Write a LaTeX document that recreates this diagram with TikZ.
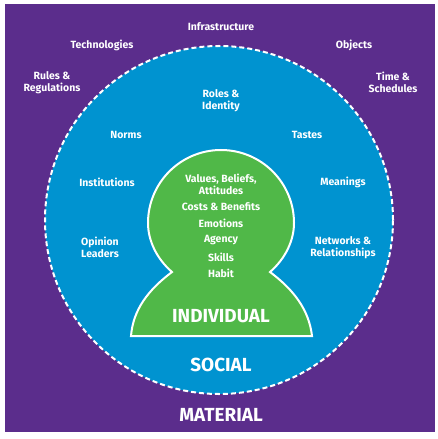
\documentclass[tikz,border=0pt]{standalone}
\usepackage{fontspec}
\setmainfont{Fira Sans}
\definecolor{purp}{HTML}{5B2D8C}
\definecolor{blu}{HTML}{0093D0}
\definecolor{grn}{HTML}{50B848}
\tikzset{
  lab/.style={text=white,font=\fontsize{10.5}{12}\selectfont\bfseries,align=center,inner sep=0pt},
  biglab/.style={text=white,font=\fontsize{19}{21}\selectfont\bfseries,inner sep=0pt},
}
\begin{document}
\begin{tikzpicture}[x=1bp,y=-1bp]
\useasboundingbox (0,0) rectangle (438,439);
\fill[white] (0,0) rectangle (438,439);
\fill[purp] (5,4) rectangle (435,432);
\node[circle,draw=white,fill=blu,line width=2bp,dash pattern=on 5bp off 3bp,minimum size=348bp,inner sep=0pt] (soc) at (219,220) {};
\draw[fill=grn,draw=white,line width=2bp,line join=miter]
  (131,336) .. controls (133,310) and (148,290) .. (172,272)
  .. controls (157,259) and (148,241) .. (148,223)
  arc[start angle=180,end angle=360,x radius=73,y radius=73]
  .. controls (294,241) and (285,259) .. (270,272)
  .. controls (294,290) and (309,310) .. (312,336) -- cycle;
\node[lab] (a1) at (221,26.5) {Infrastructure};
\node[lab] (a2) at (102,45.5) {Technologies};
\node[lab] (a3) at (52,82.5) {Rules \&\\Regulations};
\node[lab] (a4) at (354,45.5) {Objects};
\node[lab] (a5) at (393,82.5) {Time \&\\Schedules};
\node[lab] (b1) at (221,100.5) {Roles \&\\Identity};
\node[lab] (b2) at (126,134.5) {Norms};
\node[lab] (b3) at (307,134.5) {Tastes};
\node[lab] (b4) at (107,182.5) {Institutions};
\node[lab] (b5) at (343,182.5) {Meanings};
\node[lab] (b6) at (100,247.5) {Opinion\\Leaders};
\node[lab] (b7) at (343,247.5) {Networks \&\\Relationships};
\node[lab] (c1) at (221,184) {Values, Beliefs,\\Attitudes};
\node[lab] (c2) at (221,206.5) {Costs \& Benefits};
\node[lab] (c3) at (221,223.5) {Emotions};
\node[lab] (c4) at (221,240.5) {Agency};
\node[lab] (c5) at (221,257) {Skills};
\node[lab] (c6) at (221,273.5) {Habit};
\node[biglab] (d1) at (221,316) {INDIVIDUAL};
\node[biglab] (d2) at (221,365) {SOCIAL};
\node[biglab] (d3) at (221,415) {MATERIAL};
\end{tikzpicture}
\end{document}
